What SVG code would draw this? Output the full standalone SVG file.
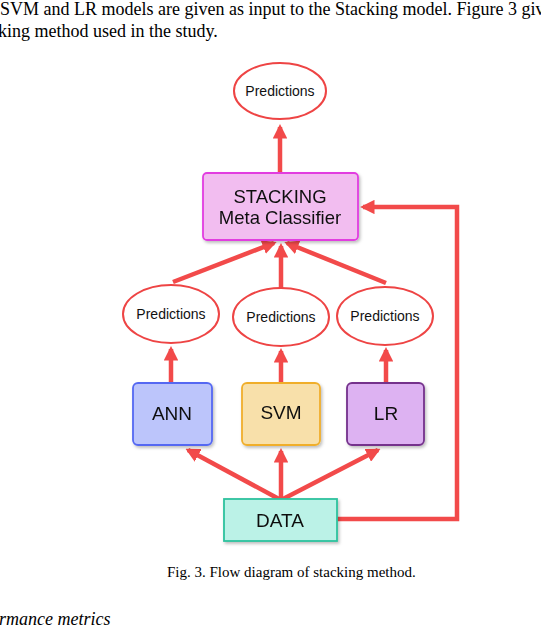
<svg xmlns="http://www.w3.org/2000/svg" width="541" height="638" viewBox="0 0 541 638">
<style>
.body{font-family:"Liberation Serif","Times New Roman",serif;fill:#000}
.lbl{font-family:"Liberation Sans",Arial,sans-serif;fill:#111;text-anchor:middle}
.ell{fill:#fff;stroke:#ee4444;stroke-width:2}
.con{stroke:#f24a4a;stroke-width:4.5;fill:none;stroke-linejoin:miter}
</style>
<defs>
<marker id="ah" viewBox="0 0 10 10" refX="8" refY="5" markerWidth="3.2" markerHeight="3.2" orient="auto" markerUnits="strokeWidth">
<path d="M0,0 L10,5 L0,10 z" fill="#f24a4a"/>
</marker>
<filter id="sh" x="-10%" y="-10%" width="125%" height="130%">
<feDropShadow dx="1.5" dy="2" stdDeviation="1.5" flood-color="#000" flood-opacity="0.25"/>
</filter>
</defs>
<rect width="541" height="638" fill="#fff"/>
<text class="body" x="0" y="15" font-size="18">SVM and LR models are given as input to the Stacking model. Figure 3 giv</text>
<text class="body" x="-2" y="37" font-size="18">king method used in the study.</text>

<g id="connectors">
<line class="con" x1="280" y1="173" x2="280" y2="127" marker-end="url(#ah)"/>
<path class="con" d="M337,519 L457,519 L457,207 L363,207" marker-end="url(#ah)"/>
<line class="con" x1="173" y1="282" x2="274" y2="243" marker-end="url(#ah)"/>
<line class="con" x1="281" y1="288" x2="281" y2="246" marker-end="url(#ah)"/>
<line class="con" x1="386" y1="283" x2="287" y2="243" marker-end="url(#ah)"/>
<line class="con" x1="171" y1="383" x2="171" y2="349" marker-end="url(#ah)"/>
<line class="con" x1="281" y1="383" x2="281" y2="351" marker-end="url(#ah)"/>
<line class="con" x1="386" y1="383" x2="386" y2="350" marker-end="url(#ah)"/>
<line class="con" x1="279" y1="499" x2="188" y2="450" marker-end="url(#ah)"/>
<line class="con" x1="281" y1="499" x2="281" y2="451" marker-end="url(#ah)"/>
<line class="con" x1="283" y1="499" x2="378" y2="450" marker-end="url(#ah)"/>
</g>

<g id="pred-top">
<ellipse class="ell" cx="280" cy="91" rx="46" ry="28"/>
<text class="lbl" x="280" y="96" font-size="14">Predictions</text>
</g>
<g id="stacking" filter="url(#sh)">
<rect x="203" y="173" width="155" height="67" rx="4" fill="#f2bdf0" stroke="#e23ee0" stroke-width="1.8"/>
<text class="lbl" x="280" y="203" font-size="18.5">STACKING</text>
<text class="lbl" x="280" y="224" font-size="18.5">Meta Classifier</text>
</g>
<g id="pred-ann">
<ellipse class="ell" cx="171" cy="314" rx="48" ry="29"/>
<text class="lbl" x="171" y="319" font-size="14">Predictions</text>
</g>
<g id="pred-svm">
<ellipse class="ell" cx="281" cy="317" rx="48" ry="29"/>
<text class="lbl" x="281" y="322" font-size="14">Predictions</text>
</g>
<g id="pred-lr">
<ellipse class="ell" cx="385" cy="316" rx="48" ry="29"/>
<text class="lbl" x="385" y="321" font-size="14">Predictions</text>
</g>
<g id="ann" filter="url(#sh)">
<rect x="133" y="383" width="79" height="62" rx="5" fill="#bcc5fb" stroke="#5468f2" stroke-width="1.8"/>
<text class="lbl" x="172" y="420" font-size="19">ANN</text>
</g>
<g id="svm" filter="url(#sh)">
<rect x="242" y="383" width="78" height="62" rx="5" fill="#f8e0aa" stroke="#f0ae2c" stroke-width="1.8"/>
<text class="lbl" x="281" y="419" font-size="19">SVM</text>
</g>
<g id="lr" filter="url(#sh)">
<rect x="347" y="383" width="77" height="62" rx="5" fill="#ddb2f2" stroke="#74308c" stroke-width="1.8"/>
<text class="lbl" x="386" y="420" font-size="19">LR</text>
</g>
<g id="data" filter="url(#sh)">
<rect x="224" y="499" width="113" height="42" fill="#bbf2e7" stroke="#2ec29e" stroke-width="1.8"/>
<text class="lbl" x="280" y="527" font-size="19">DATA</text>
</g>

<text class="body" x="167" y="577" font-size="15">Fig. 3.  Flow diagram of stacking method.</text>
<text class="body" x="-1" y="625" font-size="18" font-style="italic">rmance metrics</text>
</svg>
